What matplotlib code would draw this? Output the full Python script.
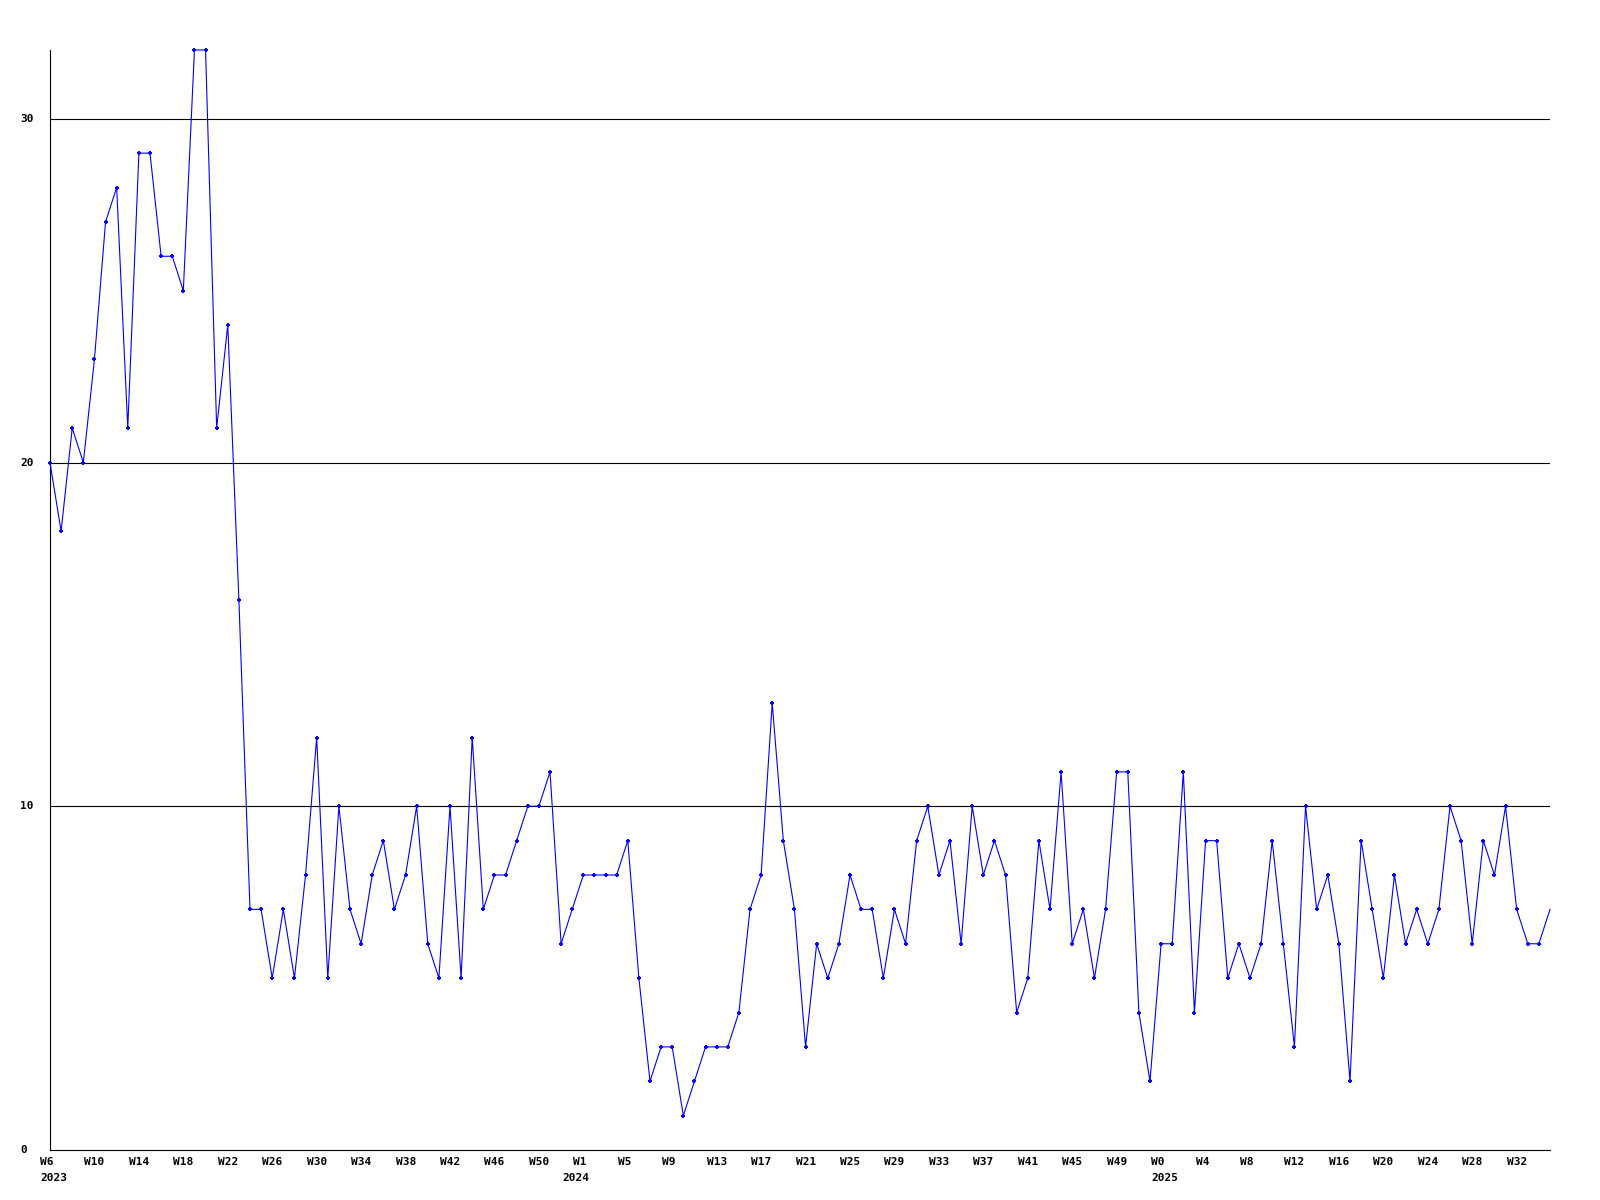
import matplotlib
matplotlib.use("Agg")
import matplotlib.pyplot as plt
import matplotlib.transforms as mtransforms

# weekly counts, 2023 W6 .. 2025 W35
values = [
    20, 18, 21, 20, 23, 27, 28, 21, 29, 29, 26, 26, 25, 32, 32, 21, 24, 16,
    7, 7, 5, 7, 5, 8, 12, 5, 10, 7, 6, 8, 9, 7, 8, 10, 6, 5, 10, 5, 12, 7,
    8, 8, 9, 10, 10, 11, 6, 7, 8, 8,
    8, 8, 9, 5, 2, 3, 3, 1, 2, 3, 3, 3, 4, 7, 8, 13, 9, 7, 3, 6, 5, 6, 8, 7, 7,
    5, 7, 6, 9, 10, 8, 9, 6, 10, 8, 9, 8, 4, 5, 9, 7, 11, 6, 7, 5, 7, 11, 11,
    4, 2, 6, 6, 11, 4, 9, 9,
    5, 6, 5, 6, 9, 6, 3, 10, 7, 8, 6, 2, 9, 7, 5, 8, 6, 7, 6, 7, 10, 9, 6, 9,
    8, 10, 7, 6, 6, 7,
]

# one label every 4th week
week_labels = [
    "W6", "W10", "W14", "W18", "W22", "W26", "W30", "W34", "W38", "W42", "W46", "W50",
    "W1", "W5", "W9", "W13", "W17", "W21", "W25", "W29", "W33", "W37", "W41", "W45", "W49",
    "W0", "W4", "W8", "W12", "W16", "W20", "W24", "W28", "W32",
]
year_labels = ["2023", "2024", "2025"]
year_start = [0, 47, 100]

y_ticks = [0, 10, 20, 30]

BLUE = "#0000ff"
FONT = dict(family="DejaVu Sans Mono", fontweight="bold", fontsize=8, color="black")

fig = plt.figure(figsize=(16, 12), dpi=100)
ax = fig.add_axes([50 / 1600, 50 / 1200, 1500 / 1600, 1100 / 1200])

x = list(range(len(values)))
ax.set_xlim(0, len(values) - 1)
ax.set_ylim(0, 32)

for yv in y_ticks[1:]:
    ax.axhline(yv, color="black", linewidth=0.8, zorder=1)

ax.plot(x, values, color=BLUE, linewidth=0.8, marker="+", markersize=3.5,
        markeredgewidth=1.5, markevery=list(range(len(values) - 1)),
        clip_on=False, zorder=3)

for side in ("top", "right"):
    ax.spines[side].set_visible(False)
for side in ("left", "bottom"):
    ax.spines[side].set_color("black")
    ax.spines[side].set_linewidth(0.8)
ax.set_xticks([])
ax.set_yticks([])

# y labels, left aligned near the figure edge
for yv in y_ticks:
    fy = (50 + yv / 32 * 1100) / 1200
    fig.text(20 / 1600, fy, str(yv), ha="left", va="center", **FONT)

# week and year labels below the axis, starting 10px left of their tick
shift = mtransforms.ScaledTranslation(-10 / 100, 0, fig.dpi_scale_trans)
trans = mtransforms.blended_transform_factory(ax.transData, fig.transFigure) + shift
for i, lab in enumerate(week_labels):
    ax.text(i * 4, 1 - 1162 / 1200, lab, transform=trans, ha="left", va="center",
            clip_on=False, **FONT)
for pos, lab in zip(year_start, year_labels):
    ax.text(pos, 1 - 1178 / 1200, lab, transform=trans, ha="left", va="center",
            clip_on=False, **FONT)

fig.savefig("out.png", dpi=100)
